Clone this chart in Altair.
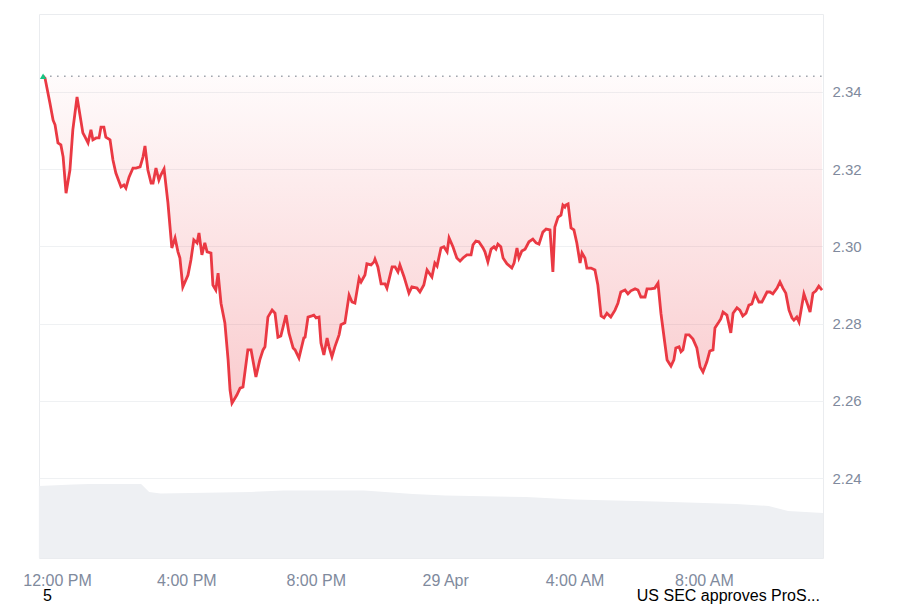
import altair as alt
import pandas as pd

# hours after 12:00 PM (28 Apr) and price in USD
hours = [
    -0.43, -0.37, -0.22, -0.12, -0.06, 0.03, 0.12, 0.19, 0.28, 0.40,
    0.49, 0.62, 0.80, 0.87, 0.96, 1.05, 1.11, 1.21, 1.30, 1.36,
    1.45, 1.51, 1.64, 1.73, 1.82, 1.98, 2.07, 2.13, 2.23, 2.35,
    2.44, 2.57, 2.66, 2.72, 2.81, 2.91, 2.97, 3.06, 3.15, 3.21,
    3.31, 3.43, 3.55, 3.65, 3.74, 3.80, 3.89, 4.05, 4.14, 4.23,
    4.33, 4.39, 4.48, 4.57, 4.64, 4.76, 4.82, 4.91, 4.98, 5.07,
    5.19, 5.29, 5.35, 5.41, 5.56, 5.66, 5.75, 5.90, 6.00, 6.15,
    6.27, 6.37, 6.43, 6.52, 6.65, 6.74, 6.83, 6.92, 7.08, 7.17,
    7.30, 7.36, 7.48, 7.63, 7.67, 7.76, 7.88, 7.94, 8.01, 8.10,
    8.16, 8.25, 8.35, 8.41, 8.50, 8.59, 8.72, 8.78, 8.90, 9.03,
    9.12, 9.21, 9.34, 9.40, 9.52, 9.58, 9.71, 9.80, 9.83, 9.92,
    10.02, 10.14, 10.20, 10.36, 10.45, 10.54, 10.60, 10.73, 10.88, 10.97,
    11.13, 11.22, 11.34, 11.44, 11.59, 11.68, 11.75, 11.87, 11.96, 12.06,
    12.12, 12.24, 12.36, 12.46, 12.55, 12.67, 12.80, 12.86, 12.95, 13.04,
    13.17, 13.23, 13.32, 13.42, 13.51, 13.57, 13.63, 13.72, 13.79, 13.91,
    14.06, 14.13, 14.22, 14.28, 14.37, 14.47, 14.59, 14.71, 14.81, 14.90,
    15.02, 15.12, 15.24, 15.33, 15.39, 15.49, 15.58, 15.64, 15.70, 15.73,
    15.80, 15.89, 15.98, 16.07, 16.17, 16.23, 16.32, 16.38, 16.51, 16.63,
    16.72, 16.82, 16.91, 17.00, 17.12, 17.25, 17.34, 17.43, 17.56, 17.65,
    17.74, 17.87, 17.96, 18.05, 18.18, 18.24, 18.36, 18.48, 18.58, 18.67,
    18.79, 18.86, 18.98, 19.07, 19.13, 19.23, 19.29, 19.35, 19.44, 19.54,
    19.66, 19.78, 19.88, 19.97, 20.09, 20.18, 20.28, 20.34, 20.46, 20.52,
    20.59, 20.71, 20.83, 20.90, 21.02, 21.11, 21.20, 21.30, 21.39, 21.48,
    21.58, 21.70, 21.79, 21.95, 22.04, 22.13, 22.26, 22.35, 22.44, 22.53,
    22.63, 22.72, 22.78, 22.87, 22.94, 23.03, 23.09, 23.21, 23.28, 23.37,
    23.46, 23.55, 23.65,
]
price = [
    2.3441, 2.3436, 2.3372, 2.3327, 2.3315, 2.3268, 2.3263, 2.3232, 2.3138, 2.3198,
    2.3302, 2.3387, 2.3294, 2.3283, 2.3268, 2.3302, 2.3276, 2.3281, 2.3281, 2.3309,
    2.3309, 2.3283, 2.3276, 2.3224, 2.3190, 2.3154, 2.3159, 2.3151, 2.3180, 2.3203,
    2.3203, 2.3206, 2.3232, 2.3260, 2.3198, 2.3164, 2.3164, 2.3203, 2.3172, 2.3185,
    2.3201, 2.3113, 2.2996, 2.3022, 2.2986, 2.2970, 2.2895, 2.2926, 2.2965, 2.3017,
    2.3009, 2.3035, 2.2978, 2.3009, 2.2986, 2.2983, 2.2900, 2.2887, 2.2931, 2.2853,
    2.2802, 2.2706, 2.2628, 2.2594, 2.2615, 2.2633, 2.2636, 2.2732, 2.2732, 2.2662,
    2.2706, 2.2732, 2.2740, 2.2817, 2.2835, 2.2827, 2.2765, 2.2768, 2.2822, 2.2776,
    2.2737, 2.2732, 2.2711, 2.2763, 2.2765, 2.2817, 2.2820, 2.2822, 2.2815, 2.2817,
    2.2750, 2.2719, 2.2763, 2.2740, 2.2714, 2.2740, 2.2771, 2.2797, 2.2802, 2.2874,
    2.2856, 2.2853, 2.2918, 2.2908, 2.2926, 2.2955, 2.2952, 2.2960, 2.2967, 2.2947,
    2.2903, 2.2903, 2.2892, 2.2947, 2.2947, 2.2934, 2.2952, 2.2921, 2.2879, 2.2895,
    2.2892, 2.2882, 2.2900, 2.2939, 2.2921, 2.2957, 2.2949, 2.2996, 2.2999, 2.2986,
    2.3022, 2.2999, 2.2970, 2.2962, 2.2970, 2.2978, 2.2978, 2.3004, 2.3014, 2.3012,
    2.2996, 2.2986, 2.2960, 2.2993, 2.2999, 2.2993, 2.3006, 2.2999, 2.2970, 2.2955,
    2.2944, 2.2957, 2.2996, 2.2970, 2.2988, 2.2993, 2.3012, 2.3019, 2.3009, 2.3006,
    2.3037, 2.3045, 2.3043, 2.2934, 2.3050, 2.3076, 2.3081, 2.3107, 2.3102, 2.3107,
    2.3110, 2.3048, 2.3043, 2.3009, 2.2957, 2.2983, 2.2970, 2.2944, 2.2944, 2.2939,
    2.2900, 2.2820, 2.2815, 2.2827, 2.2817, 2.2835, 2.2853, 2.2882, 2.2887, 2.2877,
    2.2885, 2.2890, 2.2887, 2.2869, 2.2869, 2.2890, 2.2890, 2.2892, 2.2905, 2.2827,
    2.2750, 2.2706, 2.2690, 2.2706, 2.2737, 2.2740, 2.2727, 2.2732, 2.2771, 2.2771,
    2.2760, 2.2737, 2.2688, 2.2675, 2.2701, 2.2729, 2.2732, 2.2789, 2.2804, 2.2812,
    2.2830, 2.2822, 2.2776, 2.2827, 2.2841, 2.2835, 2.2820, 2.2827, 2.2848, 2.2851,
    2.2877, 2.2856, 2.2856, 2.2882, 2.2882, 2.2877, 2.2892, 2.2908, 2.2892, 2.2879,
    2.2835, 2.2815, 2.2809, 2.2817, 2.2804, 2.2848, 2.2877, 2.2848, 2.2830, 2.2879,
    2.2885, 2.2897, 2.2887,
]
assert len(hours) == len(price)

# background volume (billions, arbitrary scale)
vol_hours = [-0.56, 0.5, 1.0, 2.6, 2.85, 3.2, 6.0, 7.0, 9.5, 11.0,
             12.0, 14.5, 16.0, 18.5, 21.0, 22.0, 22.6, 23.68]
volume = [3.97, 4.05, 4.08, 4.08, 3.64, 3.56, 3.64, 3.72, 3.72, 3.53,
          3.45, 3.36, 3.23, 3.12, 2.98, 2.87, 2.59, 2.48]

x_tick_values = [0, 4, 8, 12, 16, 20]
x_tick_labels = ["12:00 PM", "4:00 PM", "8:00 PM", "29 Apr", "4:00 AM", "8:00 AM"]
y_tick_values = [2.24, 2.26, 2.28, 2.30, 2.32, 2.34]
x_domain = [-0.556, 23.68]
y_domain = [2.2193, 2.3602]
vol_domain = [0, 30]
notes = ["5", "US SEC approves ProS..."]

open_price = price[0]
price_df = pd.DataFrame({"h": hours, "p": price})
vol_df = pd.DataFrame({"h": vol_hours, "v": volume})
first_df = price_df.iloc[[0]]
base_df = pd.DataFrame({"p": [open_price], "h0": [hours[0]], "h1": [x_domain[1]]})

label_expr = " : ".join(
    f"datum.value == {v} ? '{l}'" for v, l in zip(x_tick_values, x_tick_labels)
) + " : ''"

RED = "#ea3943"
FONT = "Liberation Sans"

xs = alt.Scale(domain=x_domain, nice=False, zero=False)
ys = alt.Scale(domain=y_domain, nice=False, zero=False)

x_enc = alt.X(
    "h:Q", scale=xs, title=None,
    axis=alt.Axis(values=x_tick_values, labelExpr=label_expr, grid=False,
                  labelPadding=14, labelOverlap=False, labelFlush=False,
                  labelFontSize=16),
)

vol_layer = alt.Chart(vol_df).mark_area(color="#eef0f3").encode(
    x=alt.X("h:Q", scale=xs),
    y=alt.Y("v:Q", scale=alt.Scale(domain=vol_domain, nice=False), axis=None),
)

gradient = alt.Gradient(
    gradient="linear",
    stops=[alt.GradientStop(color="rgba(234,57,67,0.02)", offset=0),
           alt.GradientStop(color="rgba(234,57,67,0.26)", offset=1)],
    x1=1, x2=1, y1=0, y2=1,
)

area = alt.Chart(price_df).mark_area(color=gradient).encode(
    x=x_enc,
    y=alt.Y("p:Q", scale=ys, title=None,
            axis=alt.Axis(orient="right", values=y_tick_values, format=".2f",
                          grid=True, labelPadding=9, labelFontSize=15)),
    y2=alt.datum(open_price),
)

base_rule = alt.Chart(base_df).mark_rule(
    color="#9aa0a8", strokeDash=[1.5, 5.5], strokeWidth=1.5
).encode(
    x=alt.X("h0:Q", scale=xs),
    x2="h1:Q",
    y=alt.Y("p:Q", scale=ys),
)

line = alt.Chart(price_df).mark_line(color=RED, strokeWidth=2.8).encode(
    x=alt.X("h:Q", scale=xs),
    y=alt.Y("p:Q", scale=ys),
)

start = alt.Chart(first_df).mark_point(
    shape="triangle-up", filled=True, color="#16c784", size=40, opacity=1
).encode(
    x=alt.X("h:Q", scale=xs),
    y=alt.Y("p:Q", scale=ys),
)

price_layers = alt.layer(area, base_rule, line, start)

note_left = alt.Chart(pd.DataFrame({"t": [notes[0]]})).mark_text(
    align="left", baseline="alphabetic", fontSize=16, font=FONT, color="#000000"
).encode(text="t:N", x=alt.value(4), y=alt.value(587))

note_right = alt.Chart(pd.DataFrame({"t": [notes[1]]})).mark_text(
    align="right", baseline="alphabetic", fontSize=16, font=FONT, color="#000000"
).encode(text="t:N", x=alt.value(781), y=alt.value(587))

chart = alt.layer(vol_layer, price_layers, note_left, note_right).resolve_scale(
    y="independent"
).properties(
    width=784, height=544,
    autosize=alt.AutoSizeParams(type="none"),
    padding={"left": 31, "top": 6, "right": 72, "bottom": 46},
).configure_view(
    stroke="#eaecef", strokeWidth=1
).configure_axis(
    labelFont=FONT, labelColor="#808a9d",
    gridColor="#eff1f3", domain=False, ticks=False, tickSize=0,
)

chart.save("out.html", embed_options={"renderer": "svg", "actions": False})
